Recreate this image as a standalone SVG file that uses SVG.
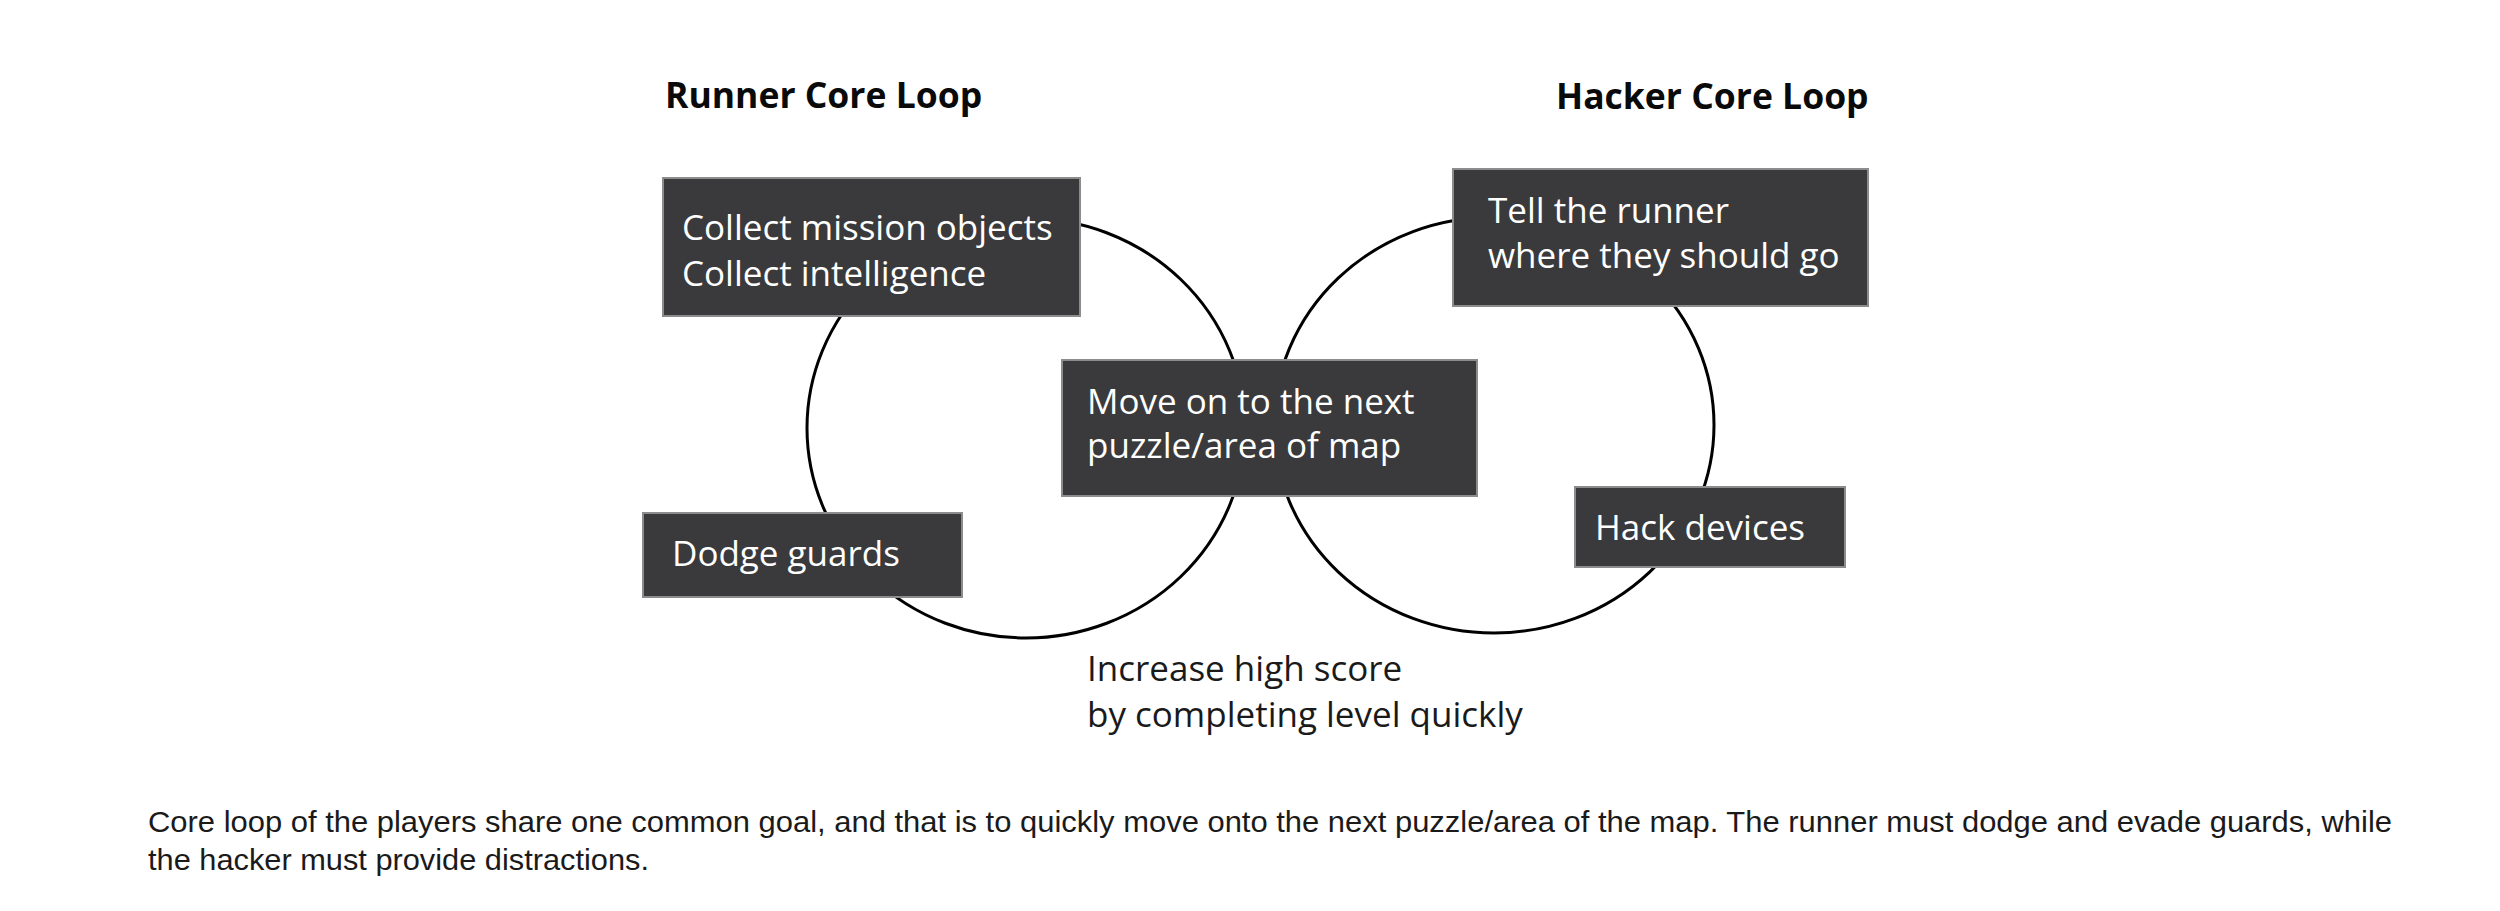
<svg xmlns="http://www.w3.org/2000/svg" width="2500" height="911" viewBox="0 0 2500 911">
<style>
.title{font-family:"Open Sans","Noto Sans",sans-serif;font-weight:700;font-size:35.5px;fill:#0a0a0a}
.box{fill:#3a3a3c;stroke:#8c8c8c;stroke-width:2}
.bt{font-family:"Open Sans","Noto Sans",sans-serif;font-size:35px;fill:#ffffff}
.goal{font-family:"Open Sans","Noto Sans",sans-serif;font-size:35px;fill:#1a1a1a}
.cap{font-family:"Liberation Sans",Arial,sans-serif;font-size:30px;fill:#1a1a1a}
.loop{fill:none;stroke:#000000;stroke-width:3}
</style>
<rect width="2500" height="911" fill="#ffffff"/>
<g id="connectors">
<ellipse class="loop" cx="1026" cy="428" rx="219" ry="210"/>
<ellipse class="loop" cx="1494" cy="425" rx="220" ry="208"/>
</g>
<g id="runner-title"><text class="title" x="665" y="108">Runner Core Loop</text></g>
<g id="hacker-title"><text class="title" x="1556" y="109">Hacker Core Loop</text></g>
<g id="collect">
<rect class="box" x="663" y="178" width="417" height="138"/>
<text class="bt" x="682" y="240">Collect mission objects</text>
<text class="bt" x="682" y="286">Collect intelligence</text>
</g>
<g id="tell">
<rect class="box" x="1453" y="169" width="415" height="137"/>
<text class="bt" x="1488" y="223">Tell the runner</text>
<text class="bt" x="1488" y="268">where they should go</text>
</g>
<g id="move">
<rect class="box" x="1062" y="360" width="415" height="136"/>
<text class="bt" x="1087" y="414">Move on to the next</text>
<text class="bt" x="1087" y="458">puzzle/area of map</text>
</g>
<g id="dodge">
<rect class="box" x="643" y="513" width="319" height="84"/>
<text class="bt" x="672" y="566">Dodge guards</text>
</g>
<g id="hack">
<rect class="box" x="1575" y="487" width="270" height="80"/>
<text class="bt" x="1595" y="540">Hack devices</text>
</g>
<g id="goal">
<text class="goal" x="1087" y="681">Increase high score</text>
<text class="goal" x="1087" y="727">by completing level quickly</text>
</g>
<g id="caption">
<text class="cap" x="148" y="832" textLength="2244" lengthAdjust="spacingAndGlyphs">Core loop of the players share one common goal, and that is to quickly move onto the next puzzle/area of the map. The runner must dodge and evade guards, while</text>
<text class="cap" x="148" y="870" textLength="501" lengthAdjust="spacingAndGlyphs">the hacker must provide distractions.</text>
</g>
</svg>
